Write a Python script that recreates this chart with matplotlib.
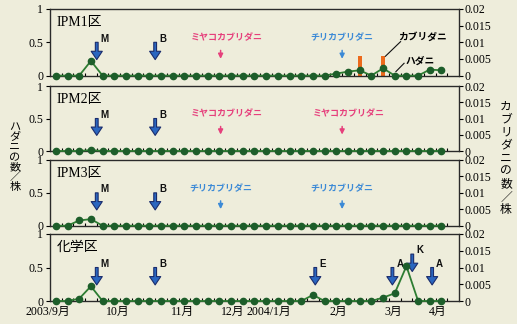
import matplotlib
matplotlib.use('Agg')
import matplotlib.pyplot as plt
import numpy as np

plt.rcParams['font.family'] = ['Liberation Serif', 'Noto Sans CJK JP']

# weekly survey points (index 0 = early Sep 2003)
weeks = np.arange(34)

hadani_ipm1 = [0, 0, 0, 0.22, 0, 0, 0, 0, 0, 0, 0, 0, 0, 0, 0, 0, 0,
               0, 0, 0, 0, 0, 0, 0, 0.03, 0.06, 0.08, 0, 0.11, 0, 0, 0, 0.09, 0.08]
hadani_ipm2 = [0, 0, 0, 0.015, 0, 0, 0, 0, 0, 0, 0, 0, 0, 0, 0, 0, 0,
               0, 0, 0, 0, 0, 0, 0, 0, 0, 0, 0, 0, 0, 0, 0, 0, 0]
hadani_ipm3 = [0, 0, 0.08, 0.10, 0, 0, 0, 0, 0, 0, 0, 0, 0, 0, 0, 0, 0,
               0, 0, 0, 0, 0, 0, 0, 0, 0, 0, 0, 0, 0, 0, 0, 0, 0]
hadani_chem = [0, 0, 0.035, 0.22, 0, 0, 0, 0, 0, 0, 0, 0, 0, 0, 0, 0, 0,
               0, 0, 0, 0, 0, 0.09, 0, 0, 0, 0, 0, 0.05, 0.115, 0.52, 0, 0, 0]

kaburi_weeks = [26, 28]
kaburi_ipm1 = [0.006, 0.006]

panel_names = ['IPM1区', 'IPM2区', 'IPM3区', '化学区']
hadani = [hadani_ipm1, hadani_ipm2, hadani_ipm3, hadani_chem]

# spray arrows: (week, label)
sprays_ipm = [(3.5, 'M'), (8.5, 'B')]
sprays_chem = [(3.5, 'M'), (8.5, 'B'), (22.2, 'E'), (28.8, 'A'), (32.2, 'A')]

# predator releases per panel: (week, name, colour)
miyako = 'ミヤコカブリダニ'
chiri = 'チリカブリダニ'
pink = '#e6407c'
lblue = '#3c8ad6'
releases = [
    [(14.1, miyako, pink), (24.5, chiri, lblue)],
    [(14.1, miyako, pink), (24.5, miyako, pink)],
    [(14.1, chiri, lblue), (24.5, chiri, lblue)],
    [],
]

month_pos = [-0.7, 5.3, 10.8, 15.1, 18.2, 24.2, 28.9, 32.7]
month_lbl = ['2003/9月', '10月', '11月', '12月', '2004/1月', '2月', '3月', '4月']

bg = '#eeeddb'
W, H = 517, 324
fig = plt.figure(figsize=(W / 100, H / 100), dpi=100, facecolor=bg)

# (top px, bottom px) of each panel
panel_px = [(9, 75.6), (86, 151), (160, 225.7), (234, 301)]
x0, x1 = 50, 459


def spray_arrow(ax, x, lab, top=0.5, tip=0.24):
    ax.annotate('', xy=(x, tip), xytext=(x, top),
                arrowprops=dict(width=2.0, headwidth=8, headlength=6,
                                facecolor='#2a66c0', edgecolor='#1a2c6c', lw=0.8))
    ax.text(x + 0.35, top - 0.02, lab, fontsize=7, fontweight='bold',
            family='Liberation Sans', color='#111111', ha='left', va='bottom')


for k in range(4):
    top, bot = panel_px[k]
    ax = fig.add_axes([x0 / W, 1 - bot / H, (x1 - x0) / W, (bot - top) / H])
    ax.set_facecolor(bg)
    ax.set_xlim(-0.5, 34.5)
    ax.set_ylim(0, 1)
    ax.set_yticks([0, 0.5, 1])
    ax.set_yticklabels(['0', '0.5', '1'])
    ax.tick_params(axis='y', direction='out', length=3, labelsize=8.5, pad=2)
    ax.set_xticks([])
    ax.set_xticks(np.arange(34) + 0.5, minor=True)
    ax.tick_params(axis='x', which='minor', direction='in', length=2.5, width=0.8)
    for s in ax.spines.values():
        s.set_color('#2a2a2a')
        s.set_linewidth(0.9)

    ax2 = ax.twinx()
    ax2.set_ylim(0, 0.02)
    ax2.set_yticks([0, 0.005, 0.01, 0.015, 0.02])
    ax2.set_yticklabels(['0', '0.005', '0.01', '0.015', '0.02'])
    ax2.tick_params(axis='y', direction='out', length=3, labelsize=8.5, pad=1)

    if k == 0:
        ax2.bar(kaburi_weeks, kaburi_ipm1, width=0.35, color='#ec6a1c', zorder=2)

    ax.plot(weeks, hadani[k], color='#2e7d32', lw=1.3, marker='o', ms=4.5,
            mfc='#1d5e2a', mec='#1d5e2a', clip_on=False, zorder=5)
    ax.set_zorder(ax2.get_zorder() + 1)
    ax.patch.set_visible(False)

    ax.text(0.017, 0.80, panel_names[k], transform=ax.transAxes, fontsize=10,
            ha='left', va='center')

    for x, lab in (sprays_chem if k == 3 else sprays_ipm):
        spray_arrow(ax, x, lab)
    if k == 3:
        spray_arrow(ax, 30.5, 'K', top=0.70, tip=0.44)

    for x, name, c in releases[k]:
        tx = x + 0.55 if c == pink else x
        ax.text(tx, 0.57, name, color=c, fontsize=6.5, fontweight='bold',
                family='Noto Sans CJK JP', ha='center', va='center')
        ax.annotate('', xy=(x, 0.21), xytext=(x, 0.42),
                    arrowprops=dict(arrowstyle='-|>', color=c, lw=1.1,
                                    mutation_scale=7))

    if k == 0:
        ax.text(31.4, 0.58, 'カブリダニ', fontsize=7, fontweight='bold',
                family='Noto Sans CJK JP', ha='center', va='center')
        ax.plot([29.5, 28.2], [0.51, 0.29], color='#111111', lw=0.8)
        ax.text(31.2, 0.23, 'ハダニ', fontsize=7, fontweight='bold',
                family='Noto Sans CJK JP', ha='center', va='center')
        ax.plot([29.8, 29.1], [0.185, 0.06], color='#111111', lw=0.8)

    if k == 3:
        for p, lab in zip(month_pos, month_lbl):
            ax.annotate(lab, xy=(p, 0), xycoords=('data', 'axes fraction'),
                        xytext=(0, -10.5), textcoords='offset pixels',
                        fontsize=8.5, ha='center', va='center',
                        annotation_clip=False)

fig.text(15 / W, 1 - 157 / H, '\n'.join('ハダニの数／株'), fontsize=8,
         family='Noto Sans CJK JP', ha='center', va='center', linespacing=1.0)
fig.text(506 / W, 1 - 158 / H, '\n'.join('カブリダニの数／株'), fontsize=8.5,
         family='Noto Sans CJK JP', ha='center', va='center', linespacing=1.0)

fig.savefig('out.png', dpi=100, facecolor=bg)
